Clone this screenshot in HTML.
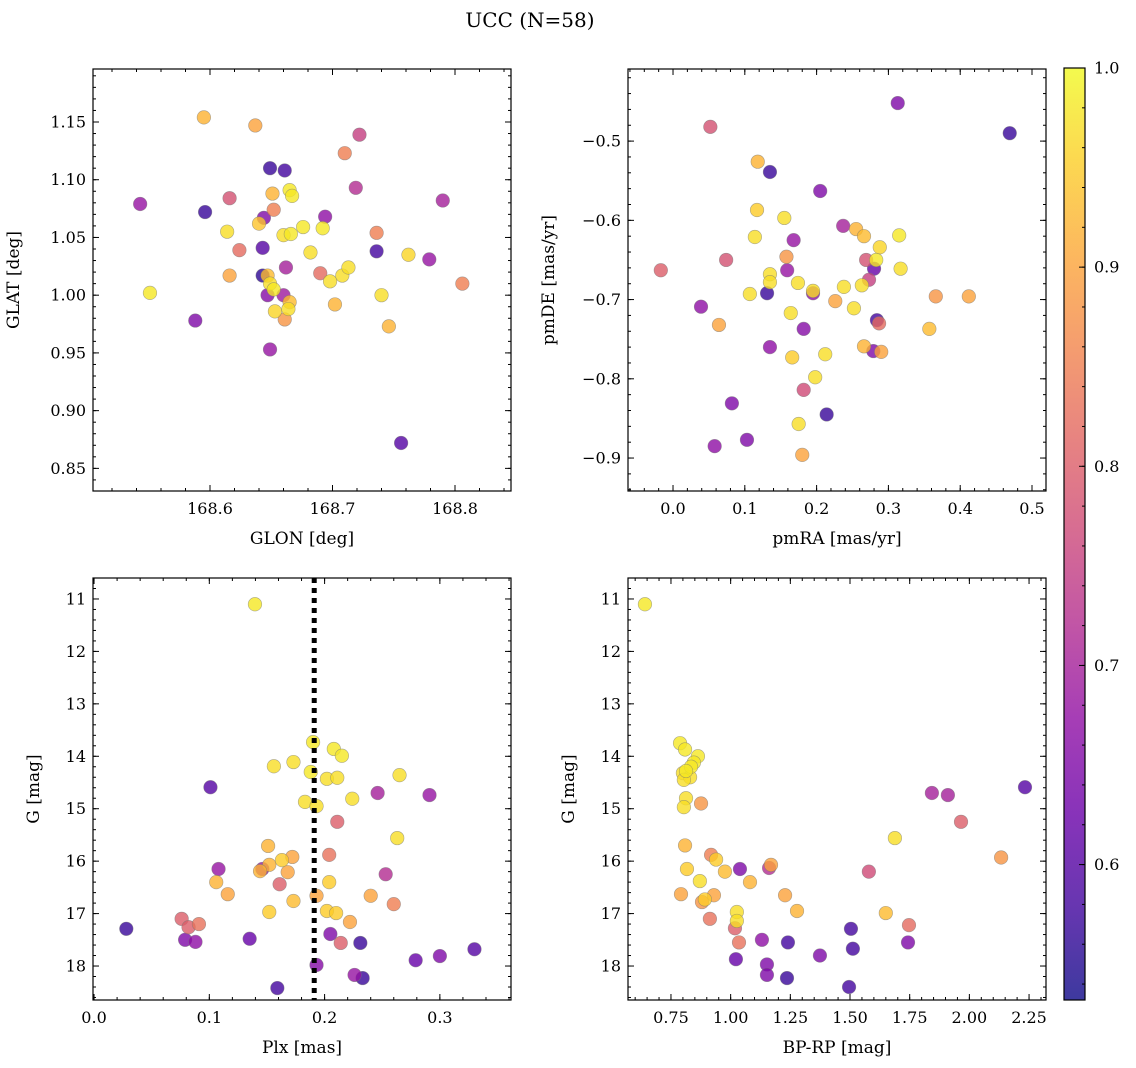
<!DOCTYPE html>
<html><head><meta charset="utf-8">
<style>
html,body{margin:0;padding:0;background:#fff;}
svg{display:block;font-family:"DejaVu Serif","Liberation Serif",serif;}
</style></head>
<body>
<svg id="chart" width="1136" height="1068" viewBox="0 0 1136 1068" xmlns="http://www.w3.org/2000/svg">
<text x="530" y="27" text-anchor="middle" font-size="20">UCC (N=58)</text>
</svg>
<script>
// ---------- data ----------
const tlGlon=[168.543,168.551,168.588,168.595,168.596,168.614,168.616,168.616,168.624,168.637,168.64,168.643,168.644,168.643,168.647,168.647,168.649,168.649,168.651,168.652,168.649,168.652,168.653,168.66,168.661,168.662,168.66,168.661,168.665,168.664,168.665,168.667,168.666,168.676,168.682,168.69,168.692,168.694,168.698,168.702,168.708,168.713,168.71,168.719,168.722,168.736,168.736,168.74,168.746,168.756,168.762,168.779,168.79,168.806];
const tlGlat=[1.079,1.002,0.978,1.154,1.072,1.055,1.084,1.017,1.039,1.147,1.062,1.041,1.067,1.017,1.0,1.017,1.11,0.953,1.088,1.074,1.01,1.005,0.986,1.0,1.108,1.024,1.052,0.979,0.994,0.988,1.091,1.086,1.053,1.059,1.037,1.019,1.058,1.068,1.012,0.992,1.017,1.024,1.123,1.093,1.139,1.054,1.038,1.0,0.973,0.872,1.035,1.031,1.082,1.01];
const tlProb=[0.68,0.98,0.65,0.92,0.57,0.97,0.78,0.9,0.82,0.9,0.94,0.6,0.65,0.56,0.66,0.93,0.57,0.68,0.92,0.85,0.97,0.98,0.96,0.69,0.58,0.7,0.97,0.88,0.93,0.97,0.98,0.98,0.98,0.98,0.97,0.82,0.98,0.67,0.97,0.92,0.97,0.97,0.85,0.72,0.75,0.85,0.58,0.97,0.92,0.6,0.96,0.68,0.7,0.85];

const trPmra=[0.469,0.313,0.052,0.118,0.135,0.205,0.117,0.155,0.237,0.255,0.266,0.315,-0.017,0.114,0.168,0.288,0.158,0.074,0.269,0.283,0.159,0.28,0.135,0.317,0.273,0.135,0.174,0.238,0.263,0.195,0.195,0.107,0.131,0.039,0.226,0.252,0.366,0.412,0.164,0.064,0.284,0.287,0.182,0.357,0.135,0.266,0.279,0.29,0.166,0.212,0.182,0.198,0.082,0.214,0.175,0.103,0.058,0.18];
const trPmde=[-0.49,-0.452,-0.482,-0.526,-0.539,-0.563,-0.587,-0.597,-0.607,-0.611,-0.62,-0.619,-0.663,-0.621,-0.625,-0.634,-0.646,-0.65,-0.65,-0.65,-0.663,-0.661,-0.668,-0.661,-0.675,-0.678,-0.679,-0.684,-0.682,-0.689,-0.692,-0.693,-0.692,-0.709,-0.702,-0.711,-0.696,-0.696,-0.717,-0.732,-0.726,-0.73,-0.737,-0.737,-0.76,-0.759,-0.765,-0.766,-0.773,-0.769,-0.814,-0.798,-0.831,-0.845,-0.857,-0.877,-0.885,-0.896];
const trProb=[0.57,0.65,0.78,0.92,0.57,0.65,0.95,0.97,0.7,0.92,0.93,0.98,0.8,0.97,0.68,0.96,0.88,0.78,0.78,0.98,0.68,0.62,0.97,0.97,0.75,0.97,0.97,0.97,0.97,0.97,0.67,0.97,0.57,0.67,0.9,0.97,0.88,0.9,0.97,0.9,0.58,0.82,0.66,0.93,0.67,0.92,0.65,0.9,0.95,0.97,0.77,0.97,0.65,0.57,0.97,0.65,0.67,0.9];

const blPlx=[0.1396,0.19,0.208,0.215,0.173,0.156,0.188,0.265,0.202,0.211,0.101,0.246,0.291,0.224,0.183,0.193,0.211,0.263,0.151,0.204,0.172,0.163,0.152,0.108,0.144,0.146,0.253,0.168,0.204,0.106,0.161,0.116,0.193,0.24,0.173,0.26,0.152,0.202,0.21,0.076,0.082,0.091,0.222,0.205,0.028,0.214,0.079,0.088,0.135,0.231,0.33,0.3,0.279,0.193,0.226,0.233,0.159];
const blG=[11.1,13.73,13.86,13.99,14.11,14.19,14.3,14.36,14.43,14.41,14.59,14.7,14.74,14.81,14.87,14.95,15.25,15.56,15.71,15.88,15.92,15.98,16.07,16.15,16.19,16.15,16.25,16.21,16.4,16.4,16.44,16.63,16.66,16.66,16.76,16.82,16.97,16.95,16.99,17.1,17.26,17.2,17.16,17.39,17.29,17.56,17.5,17.54,17.48,17.56,17.68,17.81,17.89,17.98,18.17,18.23,18.42];
const blProb=[0.98,0.98,0.98,0.98,0.97,0.97,0.98,0.97,0.97,0.97,0.6,0.7,0.68,0.97,0.97,0.97,0.8,0.97,0.92,0.83,0.9,0.95,0.92,0.68,0.92,0.68,0.72,0.9,0.95,0.92,0.8,0.9,0.9,0.9,0.93,0.85,0.95,0.95,0.95,0.8,0.8,0.83,0.9,0.65,0.57,0.8,0.65,0.67,0.62,0.57,0.6,0.65,0.62,0.66,0.68,0.57,0.58];
const plxMedian=0.191;

const brColor=[0.641,0.788,0.809,0.863,0.846,0.834,0.813,0.8,0.83,0.804,0.813,0.876,0.804,0.809,0.817,0.918,0.939,0.93,0.871,0.88,0.892,0.792,0.913,0.976,1.026,1.026,1.018,1.035,1.039,1.081,1.161,1.169,1.228,1.278,1.131,1.24,1.022,1.152,1.152,1.236,1.374,1.504,1.512,1.496,1.579,1.688,1.65,1.843,1.91,1.965,2.133,1.747,1.743,2.233];
const brG=[11.1,13.75,13.87,14.0,14.12,14.2,14.28,14.32,14.4,14.45,14.8,14.9,14.97,15.7,16.15,15.88,15.97,16.65,16.38,16.78,16.73,16.63,17.1,16.2,16.97,17.14,17.28,17.55,16.15,16.4,16.13,16.07,16.65,16.95,17.5,17.55,17.87,17.97,18.17,18.23,17.8,17.29,17.67,18.4,16.2,15.56,16.99,14.7,14.74,15.25,15.93,17.22,17.55,14.59];
const brProb=[0.98,0.98,0.98,0.98,0.98,0.98,0.98,0.97,0.97,0.97,0.97,0.88,0.97,0.92,0.95,0.85,0.95,0.9,0.97,0.88,0.95,0.9,0.83,0.93,0.97,0.97,0.8,0.83,0.65,0.92,0.72,0.9,0.9,0.92,0.67,0.58,0.62,0.65,0.65,0.57,0.65,0.58,0.58,0.58,0.77,0.97,0.93,0.7,0.7,0.8,0.88,0.82,0.65,0.6];

const tlXTicks=[168.6,168.7,168.8], tlXLabels=["168.6","168.7","168.8"];
const tlYTicks=[0.85,0.9,0.95,1.0,1.05,1.1,1.15], tlYLabels=["0.85","0.90","0.95","1.00","1.05","1.10","1.15"];
const trXTicks=[0,0.1,0.2,0.3,0.4,0.5], trXLabels=["0.0","0.1","0.2","0.3","0.4","0.5"];
const trYTicks=[-0.9,-0.8,-0.7,-0.6,-0.5], trYLabels=["\u22120.9","\u22120.8","\u22120.7","\u22120.6","\u22120.5"];
const blXTicks=[0,0.1,0.2,0.3], blXLabels=["0.0","0.1","0.2","0.3"];
const gTicks=[11,12,13,14,15,16,17,18], gLabels=["11","12","13","14","15","16","17","18"];
const brXTicks=[0.75,1,1.25,1.5,1.75,2,2.25], brXLabels=["0.75","1.00","1.25","1.50","1.75","2.00","2.25"];
const cbTicks=[0.6,0.7,0.8,0.9,1.0], cbLabels=["0.6","0.7","0.8","0.9","1.0"];
const vmin=0.532, vmax=1.0;

// ---------- helpers ----------
const NS="http://www.w3.org/2000/svg";
const svg=document.getElementById('chart');
function mk(tag,attrs,parent){const e=document.createElementNS(NS,tag);for(const k in attrs)e.setAttribute(k,attrs[k]);(parent||svg).appendChild(e);return e;}
const plasma=[[13,8,135],[65,4,157],[106,0,168],[143,13,164],[177,42,144],[204,71,120],[225,100,98],[242,132,75],[252,166,54],[252,206,37],[240,249,33]];
function cmap(v){let t=(v-vmin)/(vmax-vmin);t=Math.max(0,Math.min(1,t))*10;const i=Math.min(9,Math.floor(t)),f=t-i;const a=plasma[i],b=plasma[i+1];return 'rgb('+[0,1,2].map(k=>Math.round(a[k]+(b[k]-a[k])*f)).join(',')+')';}

function panel(name,box,xr,yr,xt,xl,yt,yl,xMinor,yMinor,xlabel,ylabel,ylabX){
  const [L,T,R,B]=box;
  const g=mk('g',{});
  
  
  const sx=v=>L+(v-xr[0])/(xr[1]-xr[0])*(R-L);
  const sy=v=>B-(v-yr[0])/(yr[1]-yr[0])*(B-T);
  const tk=mk('g',{stroke:'#000','stroke-width':1},g);
  
  
  const lo=Math.min(xr[0],xr[1]),hi=Math.max(xr[0],xr[1]);
  for(let v=Math.ceil(lo/xMinor-1e-6)*xMinor;v<=hi+1e-9;v+=xMinor){const x=sx(v);mk('line',{x1:x,x2:x,y1:B,y2:B-3},tk);mk('line',{x1:x,x2:x,y1:T,y2:T+3},tk);}
  const ylo=Math.min(yr[0],yr[1]),yhi=Math.max(yr[0],yr[1]);
  for(let v=Math.ceil(ylo/yMinor-1e-6)*yMinor;v<=yhi+1e-9;v+=yMinor){const y=sy(v);mk('line',{x1:L,x2:L+3,y1:y,y2:y},tk);mk('line',{x1:R,x2:R-3,y1:y,y2:y},tk);}
  xt.forEach((v,i)=>{const x=sx(v);mk('line',{x1:x,x2:x,y1:B,y2:B-6},tk);mk('line',{x1:x,x2:x,y1:T,y2:T+6},tk);
    const t=mk('text',{x:x,y:B+23,'text-anchor':'middle','font-size':16},g);t.textContent=xl[i];
    
    });
  yt.forEach((v,i)=>{const y=sy(v);mk('line',{x1:L,x2:L+6,y1:y,y2:y},tk);mk('line',{x1:R,x2:R-6,y1:y,y2:y},tk);
    const t=mk('text',{x:L-7,y:y+5.5,'text-anchor':'end','font-size':16},g);t.textContent=yl[i];
    
    });
  const xa=mk('text',{x:(L+R)/2,y:B+53,'text-anchor':'middle','font-size':17},g);xa.textContent=xlabel;
  
  
  const ya=mk('text',{x:ylabX,y:(T+B)/2,'text-anchor':'middle','font-size':17,transform:'rotate(-90 '+ylabX+' '+(T+B)/2+')'},g);ya.textContent=ylabel;
  
  
  return {g,sx,sy,L,T,R,B};
}
function frame(p,name){const r=mk('rect',{x:p.L,y:p.T,width:p.R-p.L,height:p.B-p.T,fill:'none',stroke:'#000','stroke-width':1.2},p.g);
  
  }
function scatter(p,name,xs,ys,ps){
  const pts=xs.map((x,i)=>[x,ys[i],ps[i]]).sort((a,b)=>a[2]-b[2]);
  pts.forEach(d=>{const c=mk('circle',{cx:p.sx(d[0]),cy:p.sy(d[1]),r:6.8,fill:cmap(d[2]),'fill-opacity':0.8,stroke:'#777','stroke-opacity':0.6,'stroke-width':0.6},p.g);
    
    });
}

const p1=panel('glon-glat-panel',[93,69,511,491],[168.5045,168.8457],[0.8304,1.1959],tlXTicks,tlXLabels,tlYTicks,tlYLabels,0.02,0.01,'GLON [deg]','GLAT [deg]',19);
scatter(p1,'glon-glat',tlGlon,tlGlat,tlProb);frame(p1,'glon-glat');
const p2=panel('pm-panel',[628,69,1046,491],[-0.0627,0.5195],[-0.9416,-0.409],trXTicks,trXLabels,trYTicks,trYLabels,0.02,0.02,'pmRA [mas/yr]','pmDE [mas/yr]',554);
scatter(p2,'pm',trPmra,trPmde,trProb);frame(p2,'pm');
const p3=panel('plx-g-panel',[93,578,511,1000],[-0.0009,0.3617],[18.648,10.6],blXTicks,blXLabels,gTicks,gLabels,0.02,0.2,'Plx [mas]','G [mag]',39);
scatter(p3,'plx-g',blPlx,blG,blProb);
const vl=mk('line',{x1:p3.sx(plxMedian),x2:p3.sx(plxMedian),y1:578,y2:1000,stroke:'#000','stroke-width':5,'stroke-dasharray':'5 5'},p3.g);


frame(p3,'plx-g');
const p4=panel('cmd-panel',[628,578,1046,1000],[0.57,2.321],[18.648,10.6],brXTicks,brXLabels,gTicks,gLabels,0.05,0.2,'BP-RP [mag]','G [mag]',574);
scatter(p4,'cmd',brColor,brG,brProb);frame(p4,'cmd');

// colorbar
const cb=mk('g',{});


const defs=mk('defs',{});const lg=mk('linearGradient',{id:'pg',x1:0,y1:1,x2:0,y2:0},defs);
plasma.forEach((c,i)=>mk('stop',{offset:i/10,'stop-color':'rgb('+c.join(',')+')','stop-opacity':0.8},lg));
const cT=68,cB=1000,cL=1064,cR=1085;
const cy=v=>cB-(v-vmin)/(vmax-vmin)*(cB-cT);
mk('rect',{x:cL,y:cT,width:cR-cL,height:cB-cT,fill:'url(#pg)',stroke:'#000','stroke-width':1.2},cb);
for(let v=0.54;v<=1.0001;v+=0.02){mk('line',{x1:cR,x2:cR-3,y1:cy(v),y2:cy(v),stroke:'#000'},cb);}
cbTicks.forEach((v,i)=>{mk('line',{x1:cR,x2:cR-6,y1:cy(v),y2:cy(v),stroke:'#000'},cb);
  const t=mk('text',{x:cR+9,y:cy(v)+5.5,'font-size':16},cb);t.textContent=cbLabels[i];
  
  });
</script>
</body></html>
